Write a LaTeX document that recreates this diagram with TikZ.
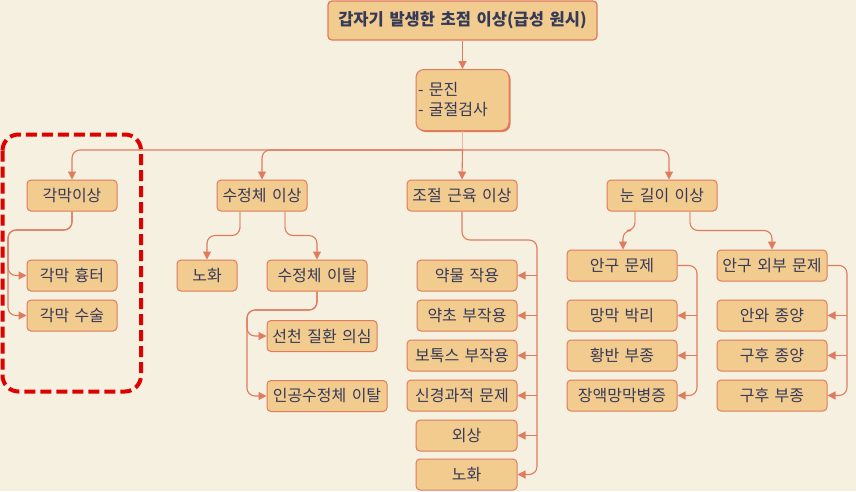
\documentclass[tikz,border=0pt]{standalone}
\usepackage{fontspec}
\setmainfont[WordSpace=1.5]{Noto Sans CJK KR}
\usetikzlibrary{arrows.meta,shadows}
\definecolor{bgc}{HTML}{F5F0E0}
\definecolor{boxf}{HTML}{F2CB8F}
\definecolor{boxd}{HTML}{E07B5E}
\definecolor{txt}{HTML}{353A58}
\definecolor{lite}{HTML}{EDB5A0}
\definecolor{dred}{HTML}{E00000}
\begin{document}
\begin{tikzpicture}[x=1pt,y=-1pt,
  box/.style={draw=boxd, fill=boxf, line width=1pt, rounded corners=4pt, minimum height=31pt, inner sep=0pt, text=txt, font=\fontsize{16}{18}\selectfont},
  conn/.style={draw=boxd, line width=1.1pt, rounded corners=8pt, -{Triangle[length=8pt,width=8pt]}},
  liteseg/.style={draw=lite, line width=1.2pt}]
\useasboundingbox[fill=bgc] (0,0) rectangle (856,491);

% title and exam box
\node[box, minimum width=269pt, minimum height=39pt, line width=1.3pt, font=\bfseries\fontsize{16.5}{18}\selectfont] (t) at (462.5,20.5) {갑자기 발생한 초점 이상(급성 원시)};
\node[box, minimum height=61pt, rounded corners=8pt, align=left, text width=89pt, inner sep=2pt, font=\fontsize{16}{20}\selectfont, drop shadow={shadow xshift=1.5pt, shadow yshift=-1.5pt, fill=boxd, opacity=1}] (m) at (462.5,100) {- 문진\\- 굴절검사};

% first level
\node[box, minimum width=90pt] (a1) at (72,195.5) {각막이상};
\node[box, minimum width=90pt] (a2) at (262,195.5) {수정체 이상};
\node[box, minimum width=110pt] (a3) at (462,195.5) {조절 근육 이상};
\node[box, minimum width=110pt] (a4) at (662,195.5) {눈 길이 이상};

% cornea
\node[box, minimum width=90pt] (b1) at (72,275.5) {각막 흉터};
\node[box, minimum width=90pt] (b2) at (72,315.5) {각막 수술};

% lens
\node[box, minimum width=60pt] (c1) at (207,275.5) {노화};
\node[box, minimum width=100pt] (c2) at (317,275.5) {수정체 이탈};
\node[box, minimum width=110pt] (d1) at (322,336) {선천 질환 의심};
\node[box, minimum width=120pt] (d2) at (327,396) {인공수정체 이탈};

% accommodation
\node[box, minimum width=100pt] (e1) at (467,275.5) {약물 작용};
\node[box, minimum width=100pt] (e2) at (467,315.5) {약초 부작용};
\node[box, minimum width=110pt] (e3) at (462,355.5) {보톡스 부작용};
\node[box, minimum width=110pt] (e4) at (462,395.5) {신경과적 문제};
\node[box, minimum width=101pt] (e5) at (466.5,435.5) {외상};
\node[box, minimum width=101pt] (e6) at (466.5,474.5) {노화};

% axial length
\node[box, minimum width=110pt] (f) at (622,265.5) {안구 문제};
\node[box, minimum width=110pt] (f1) at (622,315.5) {망막 박리};
\node[box, minimum width=110pt] (f2) at (622,355.5) {황반 부종};
\node[box, minimum width=110pt] (f3) at (622,395.5) {장액망막병증};
\node[box, minimum width=110pt] (g) at (772,265.5) {안구 외부 문제};
\node[box, minimum width=110pt] (g1) at (772,315.5) {안와 종양};
\node[box, minimum width=110pt] (g2) at (772,355.5) {구후 종양};
\node[box, minimum width=110pt] (g3) at (772,395.5) {구후 부종};

% connectors
\draw[conn] (t.south) -- (m.north);
\coordinate (hub) at (462.5,150);
\draw[liteseg] (m.south) -- (hub);
\draw[conn] (hub) -| (a1.north);
\draw[conn] (hub) -| (a2.north);
\draw[conn] (hub) -- (a3.north);
\draw[conn] (hub) -| ([xshift=7pt]a4.north);

\coordinate (kb) at (8,230);
\draw[conn] (a1.south) |- (kb) |- (b1.west);
\draw[conn] (a1.south) |- (kb) |- (b2.west);

\draw[conn] ([xshift=-22pt]a2.south) -- ++(0,24) -| (c1.north);
\draw[conn] ([xshift=23pt]a2.south) -- ++(0,24) -| (c2.north);
\draw[liteseg] ([xshift=-22pt]a2.south) -- ++(0,15);
\draw[liteseg] ([xshift=23pt]a2.south) -- ++(0,15);

\coordinate (cb) at (247,310);
\draw[conn] (c2.south) |- (cb) |- (d1.west);
\draw[conn] (c2.south) |- (cb) |- (d2.west);

\coordinate (eb) at (537,240);
\draw[conn] (a3.south) |- (eb) |- (e6.east);
\foreach \n in {e1,e2,e3,e4,e5} \draw[conn] (eb |- \n.east) -- (\n.east);

\draw[conn] ([xshift=-27pt]a4.south) -- ++(0,19) -| ([xshift=1pt]f.north);
\draw[conn] ([xshift=28pt]a4.south) -- ++(0,19) -| (g.north);
\draw[liteseg] ([xshift=-27pt]a4.south) -- ++(0,11);
\draw[liteseg] ([xshift=28pt]a4.south) -- ++(0,11);

\coordinate (fb) at (697,300);
\draw[conn] (f.east) -| (fb) |- (f3.east);
\foreach \n in {f1,f2} \draw[conn] (fb |- \n.east) -- (\n.east);
\coordinate (gb) at (847,300);
\draw[conn] (g.east) -| (gb) |- (g3.east);
\foreach \n in {g1,g2} \draw[conn] (gb |- \n.east) -- (\n.east);

% highlight frame
\draw[dred, line width=4pt, dash pattern=on 11pt off 5pt, rounded corners=16pt] (2.5,134.5) rectangle (141,391.5);
\end{tikzpicture}
\end{document}
